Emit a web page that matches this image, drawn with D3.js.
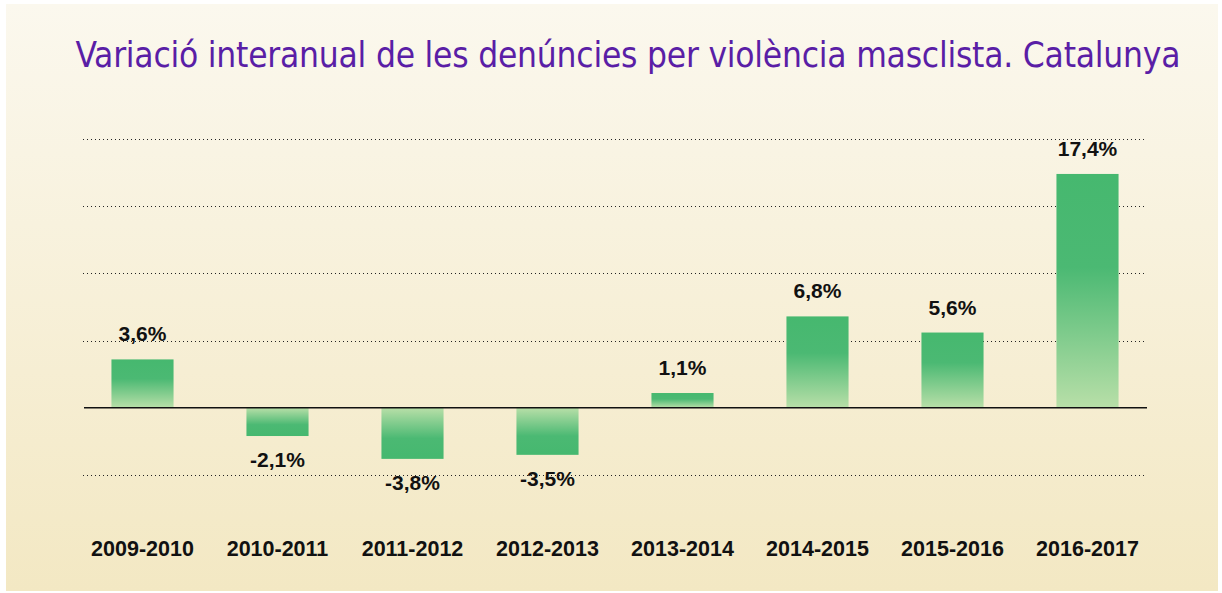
<!DOCTYPE html>
<html>
<head>
<meta charset="utf-8">
<script src="https://cdn.jsdelivr.net/npm/d3@7"></script>
<style>
  html, body { margin: 0; padding: 0; background: #ffffff; }
  svg { display: block; }
</style>
</head>
<body>
<div id="chart"></div>
<script>
// Variació interanual de les denúncies per violència masclista
const categories = ["2009-2010", "2010-2011", "2011-2012", "2012-2013", "2013-2014", "2014-2015", "2015-2016", "2016-2017"];
const values = [3.6, -2.1, -3.8, -3.5, 1.1, 6.8, 5.6, 17.4];
const gridTicks = [-5, 5, 10, 15, 20];

const width = 1222, height = 593;

const svg = d3.select("#chart").append("svg")
    .attr("width", width)
    .attr("height", height);

const defs = svg.append("defs");

// background cream gradient
const bg = defs.append("linearGradient")
    .attr("id", "bgGrad")
    .attr("x1", "0%").attr("y1", "0%")
    .attr("x2", "0%").attr("y2", "100%");
bg.append("stop").attr("offset", "0%").attr("stop-color", "#fbf8ee");
bg.append("stop").attr("offset", "100%").attr("stop-color", "#f3e8c3");

// bar gradient: solid green at the far end, pale near the zero line
function barGradient(id, flip) {
    const g = defs.append("linearGradient")
        .attr("id", id)
        .attr("x1", "0%").attr("y1", flip ? "100%" : "0%")
        .attr("x2", "0%").attr("y2", flip ? "0%" : "100%");
    g.append("stop").attr("offset", "0%").attr("stop-color", "#46b86f");
    g.append("stop").attr("offset", "40%").attr("stop-color", "#4bb973");
    g.append("stop").attr("offset", "100%").attr("stop-color", "#b8dfa8");
}
barGradient("posGrad", false);
barGradient("negGrad", true);

svg.append("rect")
    .attr("x", 6).attr("y", 4)
    .attr("width", 1212).attr("height", 587)
    .attr("fill", "url(#bgGrad)");

// title
svg.append("text")
    .attr("x", 628)
    .attr("y", 67)
    .attr("text-anchor", "middle")
    .attr("font-family", "'DejaVu Sans Condensed', 'DejaVu Sans', sans-serif")
    .attr("font-stretch", "condensed")
    .attr("font-size", 35)
    .attr("fill", "#5a1ea6")
    .attr("textLength", 1105)
    .attr("lengthAdjust", "spacing")
    .text("Variació interanual de les denúncies per violència masclista. Catalunya");

// scales
const x = d3.scaleBand()
    .domain(categories)
    .range([75, 1155])
    .paddingInner(0.54)
    .paddingOuter(0.27);

const y = d3.scaleLinear()
    .domain([-5, 20])
    .range([475, 139]);

// dotted gridlines
svg.append("g")
    .selectAll("line")
    .data(gridTicks)
    .join("line")
    .attr("x1", 83).attr("x2", 1147)
    .attr("y1", d => Math.round(y(d)) + 0.5)
    .attr("y2", d => Math.round(y(d)) + 0.5)
    .attr("stroke", "#222")
    .attr("stroke-width", 1)
    .attr("stroke-dasharray", "1,3");

// bars
svg.append("g")
    .selectAll("rect")
    .data(values)
    .join("rect")
    .attr("x", (d, i) => x(categories[i]))
    .attr("width", x.bandwidth())
    .attr("y", d => y(Math.max(0, d)))
    .attr("height", d => Math.abs(y(d) - y(0)))
    .attr("fill", d => d >= 0 ? "url(#posGrad)" : "url(#negGrad)");

// zero line
svg.append("line")
    .attr("x1", 84).attr("x2", 1147)
    .attr("y1", y(0)).attr("y2", y(0))
    .attr("stroke", "#111")
    .attr("stroke-width", 1.6);

const fmt = d => d3.format(".1f")(d).replace(".", ",").replace("−", "-") + "%";

// value labels
svg.append("g")
    .selectAll("text")
    .data(values)
    .join("text")
    .attr("x", (d, i) => x(categories[i]) + x.bandwidth() / 2)
    .attr("y", d => d >= 0 ? y(d) - 18 : y(d) + 31)
    .attr("text-anchor", "middle")
    .attr("font-family", "'Liberation Sans', Arial, sans-serif")
    .attr("font-weight", "bold")
    .attr("font-size", 21)
    .attr("fill", "#111")
    .text(fmt);

// category labels
svg.append("g")
    .selectAll("text")
    .data(categories)
    .join("text")
    .attr("x", d => x(d) + x.bandwidth() / 2)
    .attr("y", 556)
    .attr("text-anchor", "middle")
    .attr("font-family", "'Liberation Sans', Arial, sans-serif")
    .attr("font-weight", "bold")
    .attr("font-size", 21.5)
    .attr("fill", "#111")
    .text(d => d);
</script>
</body>
</html>
